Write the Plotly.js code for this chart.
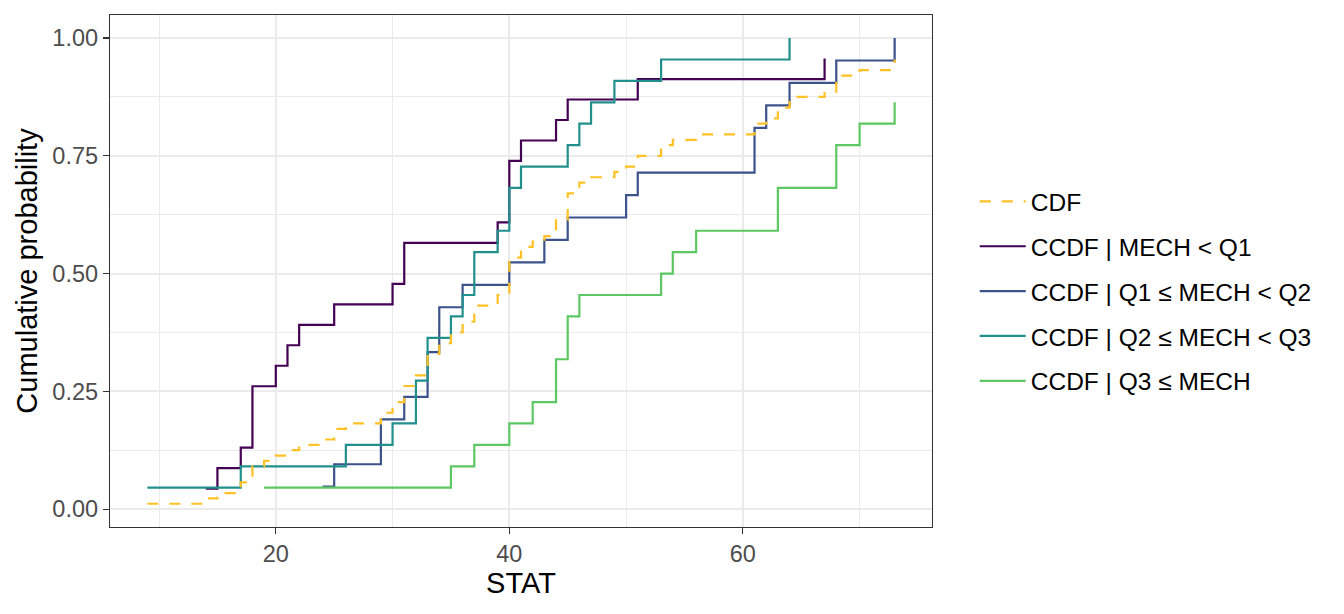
<!DOCTYPE html>
<html>
<head>
<meta charset="utf-8">
<script src="https://cdn.plot.ly/plotly-3.0.1.min.js"></script>
<style>
  html, body { margin: 0; padding: 0; background: #fff; }
  #chart { width: 1344px; height: 614px; }
</style>
</head>
<body>
<div id="chart"></div>
<script>
// STAT values per MECH quartile group
var statLow  = [14, 15, 17, 18, 18, 18, 20, 21, 22, 25, 30, 31, 31, 39, 40, 40, 40, 41, 44, 45, 51, 67];
var statMid1 = [24, 25, 29, 29, 31, 33, 33, 34, 34, 36, 40, 43, 45, 50, 51, 61, 61, 62, 64, 68, 73];
var statMid2 = [9, 17, 26, 30, 32, 32, 33, 33, 35, 36, 37, 37, 39, 40, 40, 41, 45, 46, 47, 49, 53, 64];
var statHigh = [19, 35, 37, 40, 42, 44, 44, 45, 45, 46, 53, 54, 56, 63, 63, 68, 68, 70, 73];

// group sizes (some values fall outside the shown x range)
var groupSizes = [23, 21, 22, 22];

var groupNames = ['CCDF | MECH < Q1', 'CCDF | Q1 \u2264 MECH < Q2', 'CCDF | Q2 \u2264 MECH < Q3', 'CCDF | Q3 \u2264 MECH'];
var groupColors = ['#440154', '#3B528B', '#21908C', '#5DC863'];

var yTicks = [0, 0.25, 0.5, 0.75, 1];
var yTickText = ['0.00', '0.25', '0.50', '0.75', '1.00'];
var xTicks = [20, 40, 60];

// empirical cdf: one point per distinct value
function ecdf(vals, n) {
  var s = vals.slice().sort(function(a, b) { return a - b; });
  var xs = [], ys = [];
  for (var i = 0; i < s.length; i++) {
    if (i < s.length - 1 && s[i + 1] == s[i]) continue;
    xs.push(s[i]);
    ys.push((i + 1) / n);
  }
  return {x: xs, y: ys};
}

var groups = [statLow, statMid1, statMid2, statHigh];
var traces = [];

for (var g = 0; g < groups.length; g++) {
  var e = ecdf(groups[g], groupSizes[g]);
  traces.push({
    x: e.x, y: e.y,
    type: 'scatter', mode: 'lines',
    line: {shape: 'hv', color: groupColors[g], width: 2.2},
    name: groupNames[g],
    legendgroup: 'g' + g,
    legendrank: g + 2
  });
}

var allStat = statLow.concat(statMid1, statMid2, statHigh);
var nAll = groupSizes.reduce(function(a, b) { return a + b; }, 0);
var eAll = ecdf(allStat, nAll);
traces.push({
  x: eAll.x, y: eAll.y,
  type: 'scatter', mode: 'lines',
  line: {shape: 'hv', color: '#FFC125', width: 2.2, dash: '11px,11px'},
  name: 'CDF',
  legendgroup: 'cdf',
  legendrank: 1
});

var layout = {
  width: 1344, height: 614,
  margin: {l: 110, r: 412, t: 15, b: 87},
  paper_bgcolor: '#fff', plot_bgcolor: '#fff',
  font: {family: 'Liberation Sans, Arial, sans-serif'},
  xaxis: {
    range: [5.8, 76.2],
    tickvals: xTicks,
    ticks: 'outside', ticklen: 6, tickwidth: 1.2, tickcolor: '#333333',
    tickfont: {size: 23.5, color: '#4D4D4D'},
    showgrid: true, gridcolor: '#EBEBEB', gridwidth: 2,
    minor: {tick0: 0, dtick: 10, showgrid: true, gridcolor: '#EBEBEB', gridwidth: 1, ticks: ''},
    zeroline: false,
    showline: true, mirror: true, linecolor: '#333333', linewidth: 1.2,
    title: {text: 'STAT', font: {size: 29, color: '#000'}, standoff: 4}
  },
  yaxis: {
    range: [-0.038, 1.049],
    tickvals: yTicks, ticktext: yTickText,
    ticks: 'outside', ticklen: 6, tickwidth: 1.2, tickcolor: '#333333',
    tickfont: {size: 23.5, color: '#4D4D4D'},
    showgrid: true, gridcolor: '#EBEBEB', gridwidth: 2,
    minor: {tick0: 0, dtick: 0.125, showgrid: true, gridcolor: '#EBEBEB', gridwidth: 1, ticks: ''},
    zeroline: false,
    showline: true, mirror: true, linecolor: '#333333', linewidth: 1.2,
    title: {text: 'Cumulative probability', font: {size: 29, color: '#000'}, standoff: 6}
  },
  showlegend: true,
  legend: {
    x: 1.052, xanchor: 'left', y: 0.46, yanchor: 'middle',
    font: {size: 24.5, color: '#000'},
    itemwidth: 46,
    tracegroupgap: 10,
    bgcolor: 'rgba(0,0,0,0)'
  }
};

Plotly.newPlot('chart', traces, layout, {displayModeBar: false, staticPlot: true});
</script>
</body>
</html>
